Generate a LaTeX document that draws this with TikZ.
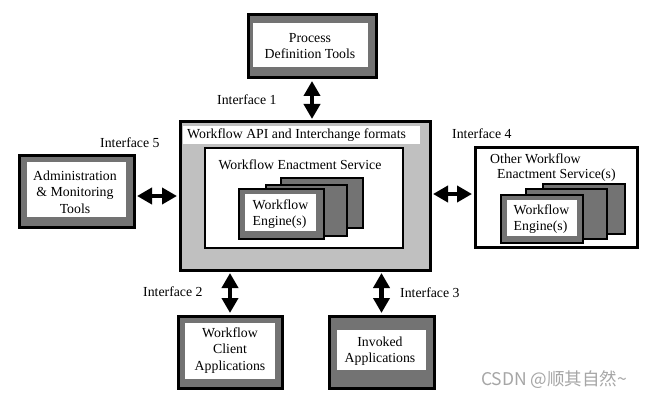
\documentclass[tikz,border=0pt]{standalone}
\usepackage{fontspec}
\setmainfont{Liberation Serif}
\newfontfamily\cjk{Noto Sans CJK SC}
\usetikzlibrary{arrows.meta}
\definecolor{dgray}{HTML}{737373}
\definecolor{lgray}{HTML}{C0C0C0}
\begin{document}
\begin{tikzpicture}[x=1pt,y=-1pt,
  obox/.style={draw=black, line width=3pt, fill=dgray, inner sep=0pt},
  wbox/.style={fill=white, inner sep=0pt},
  card/.style={draw=black, line width=2pt, fill=dgray, inner sep=0pt},
  txt/.style={font=\fontsize{13.8}{16.5}\selectfont, inner sep=0pt, align=center},
  lbl/.style={font=\fontsize{13.8}{16.5}\selectfont, inner sep=0pt, anchor=west},
  arr/.style={line width=4.5pt, {Triangle[length=15pt,width=16pt]}-{Triangle[length=15pt,width=16pt]}, shorten <=1.5pt, shorten >=1.5pt}]
\fill[white] (0,0) rectangle (650,401);
\useasboundingbox (0,0) rectangle (650,401);

% Process Definition Tools
\node[obox, minimum width=128pt, minimum height=63pt] (pdt) at (312,46.5) {};
\node[wbox, minimum width=115pt, minimum height=44pt] (pdtin) at (310.5,45) {};
\node[txt] (pdtt) at (310,46) {Process\\Definition Tools};

% Main API box
\node[draw=black, line width=3pt, fill=lgray, inner sep=0pt, minimum width=250pt, minimum height=148pt] (api) at (305,196) {};
\node[wbox, minimum width=237pt, minimum height=18pt] (apilab) at (301.5,135) {};
\node[lbl] (apit) at (187,135) {Workflow API and Interchange formats};
\node[draw=black, line width=2pt, fill=white, inner sep=0pt, minimum width=198pt, minimum height=100pt] (wes) at (304,198) {};
\node[txt] (west) at (300,165) {Workflow Enactment Service};
\node[card, minimum width=82pt, minimum height=50pt] (c3) at (322,203) {};
\node[card, minimum width=81pt, minimum height=51pt] (c2) at (306.5,210.5) {};
\node[card, minimum width=85pt, minimum height=50pt] (c1) at (281.5,214) {};
\node[wbox, minimum width=71pt, minimum height=37pt] (c1in) at (280.5,212.5) {};
\node[txt, align=left] (engt) at (280.5,214) {Workflow\\Engine(s)};

% Administration
\node[obox, minimum width=115pt, minimum height=72pt] (adm) at (76.5,191) {};
\node[wbox, minimum width=99pt, minimum height=55pt] (admin) at (76.5,189.5) {};
\node[txt] (admt) at (75,192) {Administration\\\& Monitoring\\Tools};

% Other Workflow Enactment Service(s)
\node[draw=black, line width=3pt, fill=white, inner sep=0pt, minimum width=162pt, minimum height=100pt] (other) at (556,197) {};
\node[txt, align=left, anchor=north west, font=\fontsize{13.8}{14.5}\selectfont] (othert) at (490,154) {Other Workflow\\\hspace*{7pt}Enactment Service(s)};
\node[card, minimum width=82pt, minimum height=50pt] (o3) at (584,209) {};
\node[card, minimum width=81pt, minimum height=50pt] (o2) at (566.5,214) {};
\node[card, minimum width=82pt, minimum height=48pt] (o1) at (542,219) {};
\node[wbox, minimum width=70pt, minimum height=36pt] (o1in) at (542,218) {};
\node[txt, align=left, font=\fontsize{13.8}{15.5}\selectfont] (oengt) at (541.5,219) {Workflow\\Engine(s)};

% Workflow Client Applications
\node[obox, minimum width=104pt, minimum height=72pt] (client) at (230,352) {};
\node[wbox, minimum width=90pt, minimum height=56pt] (clientin) at (230,351) {};
\node[txt] (clientt) at (230,350.5) {Workflow\\Client\\Applications};

% Invoked Applications
\node[obox, minimum width=105pt, minimum height=72pt] (inv) at (381.5,352) {};
\node[wbox, minimum width=89pt, minimum height=40pt] (invin) at (381.5,350) {};
\node[txt] (invt) at (380,351) {Invoked\\Applications};

% Interface labels
\node[lbl] (i1) at (217,100) {Interface 1};
\node[lbl] (i2) at (143,292) {Interface 2};
\node[lbl] (i3) at (400,293) {Interface 3};
\node[lbl] (i4) at (452,134) {Interface 4};
\node[lbl] (i5) at (100,143) {Interface 5};

% Arrows
\draw[arr] (pdt.south) -- (pdt.south |- api.north);
\draw[arr] ([yshift=-5pt]adm.east) -- ([yshift=-5pt]adm.east -| api.west);
\draw[arr] ([yshift=3pt]other.west) -- ([yshift=3pt]other.west -| api.east);
\draw[arr] (client.north) -- (client.north |- api.south);
\draw[arr] (inv.north) -- (inv.north |- api.south);

% Watermark
\node[font=\cjk\fontsize{17.5}{17.5}\selectfont, text=black!35, inner sep=0pt] (wm) at (554,380) {CSDN @顺其自然\textasciitilde};
\end{tikzpicture}
\end{document}
